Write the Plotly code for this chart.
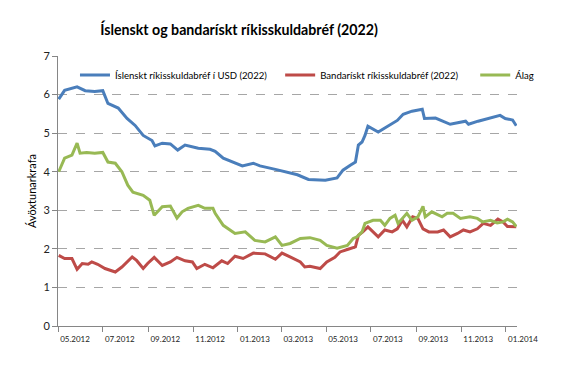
import plotly.graph_objects as go

title = "Íslenskt og bandarískt ríkisskuldabréf (2022)"
y_title = "Ávöxtunarkrafa"
names = ["Íslenskt ríkisskuldabréf í USD (2022)", "Bandarískt ríkisskuldabréf (2022)", "Álag"]

is_dates = ["2012-05-02","2012-05-10","2012-05-27","2012-06-07","2012-06-20","2012-07-01","2012-07-08",
            "2012-07-22","2012-08-03","2012-08-14","2012-08-25","2012-09-06","2012-09-10","2012-09-20",
            "2012-10-01","2012-10-11","2012-10-21","2012-11-08","2012-11-24","2012-12-01","2012-12-12",
            "2012-12-25","2013-01-07","2013-01-22","2013-01-31","2013-02-21","2013-03-13","2013-03-23",
            "2013-04-07","2013-04-30","2013-05-16","2013-05-24","2013-06-03","2013-06-10","2013-06-14",
            "2013-06-19","2013-06-23","2013-06-27","2013-07-11","2013-07-25","2013-08-06","2013-08-14",
            "2013-08-26","2013-09-09","2013-09-12","2013-09-27","2013-10-17","2013-11-07","2013-11-11",
            "2013-11-24","2013-12-08","2013-12-24","2013-12-31","2014-01-10","2014-01-15"]
is_vals = [5.88,6.11,6.20,6.10,6.08,6.10,5.77,
           5.65,5.38,5.20,4.94,4.81,4.67,4.74,
           4.72,4.56,4.69,4.61,4.58,4.53,4.35,
           4.24,4.15,4.22,4.15,4.06,3.96,3.92,
           3.80,3.78,3.84,4.04,4.17,4.25,4.69,
           4.77,4.94,5.18,5.03,5.20,5.33,5.49,
           5.57,5.62,5.38,5.39,5.23,5.31,5.23,
           5.31,5.38,5.46,5.38,5.34,5.19]

us_dates = ["2012-05-02","2012-05-10","2012-05-20","2012-05-27","2012-06-03","2012-06-11","2012-06-16",
            "2012-06-24","2012-07-04","2012-07-18","2012-07-27","2012-08-10","2012-08-16","2012-08-25",
            "2012-08-31","2012-09-09","2012-09-20","2012-10-01","2012-10-10","2012-10-21","2012-10-31",
            "2012-11-06","2012-11-17","2012-11-28","2012-12-10","2012-12-18","2012-12-28","2013-01-08",
            "2013-01-22","2013-02-07","2013-02-21","2013-03-02","2013-03-13","2013-03-27","2013-04-02",
            "2013-04-09","2013-04-23","2013-05-02","2013-05-13","2013-05-20","2013-05-31","2013-06-10",
            "2013-06-14","2013-06-20","2013-06-27","2013-07-04","2013-07-11","2013-07-20","2013-07-30",
            "2013-08-06","2013-08-13","2013-08-19","2013-08-27","2013-09-03","2013-09-10","2013-09-18",
            "2013-09-30","2013-10-08","2013-10-17","2013-10-27","2013-11-04","2013-11-13","2013-11-23",
            "2013-12-01","2013-12-11","2013-12-21","2013-12-28","2014-01-03","2014-01-15"]
us_vals = [1.83,1.75,1.75,1.47,1.62,1.60,1.66,
           1.60,1.49,1.40,1.53,1.79,1.70,1.49,
           1.62,1.78,1.57,1.66,1.78,1.69,1.66,
           1.49,1.60,1.51,1.69,1.62,1.81,1.75,
           1.89,1.87,1.73,1.89,1.79,1.66,1.53,
           1.55,1.49,1.66,1.78,1.92,1.99,2.05,
           2.35,2.44,2.57,2.44,2.31,2.49,2.44,
           2.52,2.74,2.57,2.83,2.79,2.52,2.44,
           2.44,2.49,2.31,2.40,2.49,2.44,2.52,
           2.66,2.61,2.77,2.70,2.58,2.57]

sp_dates = ["2012-05-02","2012-05-10","2012-05-20","2012-05-27","2012-05-31","2012-06-09","2012-06-20",
            "2012-07-01","2012-07-08","2012-07-18","2012-07-27","2012-08-04","2012-08-11","2012-08-25",
            "2012-09-03","2012-09-09","2012-09-20","2012-10-01","2012-10-10","2012-10-17","2012-10-25",
            "2012-11-08","2012-11-17","2012-11-28","2012-12-01","2012-12-12","2012-12-28","2013-01-11",
            "2013-01-24","2013-02-07","2013-02-21","2013-03-02","2013-03-13","2013-03-27","2013-04-09",
            "2013-04-23","2013-05-02","2013-05-16","2013-05-30","2013-06-07","2013-06-12","2013-06-19",
            "2013-06-23","2013-07-04","2013-07-14","2013-07-20","2013-07-27","2013-08-03","2013-08-07",
            "2013-08-19","2013-08-26","2013-09-03","2013-09-10","2013-09-13","2013-09-22","2013-10-06",
            "2013-10-13","2013-10-21","2013-10-31","2013-11-13","2013-11-23","2013-11-30","2013-12-11",
            "2013-12-20","2013-12-28","2014-01-03","2014-01-10","2014-01-15"]
sp_vals = [4.00,4.35,4.43,4.74,4.48,4.50,4.48,
           4.50,4.25,4.22,4.00,3.65,3.47,3.39,
           3.26,2.87,3.09,3.11,2.80,2.96,3.05,
           3.13,3.05,3.05,2.92,2.61,2.40,2.44,
           2.22,2.18,2.31,2.09,2.14,2.27,2.29,
           2.22,2.09,2.02,2.09,2.27,2.31,2.44,
           2.66,2.74,2.74,2.61,2.79,2.87,2.66,
           2.92,2.74,2.83,3.10,2.83,2.96,2.83,
           2.92,2.92,2.79,2.83,2.79,2.70,2.74,
           2.67,2.70,2.77,2.70,2.58]

colors = ["#4A7EBB", "#BE4B48", "#98B954"]
legend_ids = ["legend", "legend2", "legend3"]
legend_x = [0.037, 0.484, 0.909]

fig = go.Figure()
for nm, xs, ys, c, lg in [(names[0], is_dates, is_vals, colors[0], legend_ids[0]),
                          (names[1], us_dates, us_vals, colors[1], legend_ids[1]),
                          (names[2], sp_dates, sp_vals, colors[2], legend_ids[2])]:
    fig.add_trace(go.Scatter(x=xs, y=ys, mode="lines", name=nm, legend=lg,
                             line=dict(color=c, width=3)))

leg_common = dict(orientation="h", xanchor="left", y=0.93, yanchor="middle",
                  font=dict(size=9.6), bgcolor="rgba(0,0,0,0)", itemwidth=30)

fig.update_layout(
    width=566, height=372,
    margin=dict(l=58, r=49, t=56, b=46),
    paper_bgcolor="white", plot_bgcolor="white",
    font=dict(family="Lato, Liberation Sans, sans-serif", color="#000000"),
    title=dict(text="<b>" + title + "</b>", x=0.4223, xanchor="center", y=0.918, yanchor="middle",
               font=dict(size=14.2, color="#000000")),
    showlegend=True,
    legend=dict(x=legend_x[0], **leg_common),
    legend2=dict(x=legend_x[1], **leg_common),
    legend3=dict(x=legend_x[2], **leg_common),
)
fig.update_xaxes(
    type="date", range=["2012-05-01", "2014-01-16"],
    tick0="2012-05-01", dtick="M2", tickformat="%m.%Y",
    ticks="outside", ticklen=5, tickcolor="#868686",
    showline=True, linecolor="#868686", linewidth=1,
    showgrid=False, zeroline=False,
    tickfont=dict(size=8, color="#222222"), ticklabelshift=17,
)
fig.update_yaxes(
    range=[0, 7], dtick=1, tick0=0,
    ticks="outside", ticklen=5, tickcolor="#868686",
    showline=True, linecolor="#868686", linewidth=1,
    showgrid=True, gridcolor="#A6A6A6", griddash="dash", gridwidth=1,
    zeroline=False,
    tickfont=dict(size=11, color="#222222"),
    title=dict(text=y_title, font=dict(size=11, color="#000000"), standoff=4),
)

fig.write_html("out.html", config={"displayModeBar": False},
               post_script="document.body.style.margin='0';")
